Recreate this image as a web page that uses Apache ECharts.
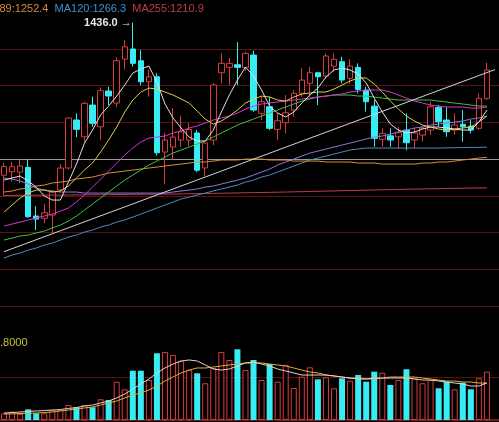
<!DOCTYPE html>
<html>
<head>
<meta charset="utf-8">
<script src="https://cdn.jsdelivr.net/npm/echarts@6/dist/echarts.min.js"></script>
<style>
  html, body { margin: 0; padding: 0; background: #000; }
  #kline { width: 499px; height: 422px; }
</style>
</head>
<body>
<div id="kline"></div>
<script>
// daily bars (price units)
var opens = [1228, 1232.9, 1232.4, 1238.8, 1172.5, 1169.4, 1173.9, 1208, 1237.9, 1303.3,
  1280.5, 1323.7, 1294.1, 1342.8, 1326.4, 1386.3, 1400, 1384, 1355.4, 1362.2,
  1259.7, 1266.5, 1276, 1276, 1285.6, 1238, 1276, 1367.7, 1375, 1378.6,
  1375, 1391.8, 1312.4, 1321.4, 1290.6, 1299.6, 1316.9, 1339.6, 1353.2, 1367.7,
  1363.2, 1376.8, 1382.7, 1360, 1375, 1344, 1322.2, 1277, 1281.7, 1280.5,
  1289.6, 1276, 1282.8, 1289.6, 1320.6, 1303.3, 1289.6, 1297.4, 1295, 1292,
  1332.8]
var closes = [1240, 1239.7, 1240.6, 1171.6, 1168.4, 1177, 1205.6, 1237.9, 1306, 1290.6,
  1326, 1298.8, 1343.2, 1336, 1384, 1403, 1380.5, 1355.4, 1362.2, 1258.7,
  1276, 1280, 1287.3, 1290.4, 1235, 1272, 1351, 1380.5, 1380.5, 1375,
  1394, 1316.9, 1328.2, 1292, 1302.3, 1313.2, 1339.6, 1357.7, 1367.7, 1362.2,
  1390.5, 1386, 1357.7, 1376.8, 1345, 1328.2, 1278.3, 1285.1, 1276, 1286,
  1272.4, 1285.6, 1292, 1321.4, 1301, 1287.3, 1296.5, 1294.1, 1289.6, 1332.8,
  1371.4]
var lows = [1200, 1219.3, 1217.4, 1170, 1153.4, 1163, 1149.4, 1205, 1236, 1280,
  1273.7, 1294.1, 1276, 1323.7, 1321, 1372.3, 1375.9, 1351, 1335, 1255,
  1216, 1248.8, 1266.5, 1268, 1232.4, 1227, 1269, 1353.2, 1351, 1351,
  1370, 1314.6, 1303.3, 1289.6, 1276, 1285, 1307.8, 1335, 1335, 1323.7,
  1360, 1369, 1353.2, 1353, 1339.6, 1314.6, 1266.9, 1266.9, 1266.9, 1264,
  1262, 1265, 1274, 1283, 1294, 1280.5, 1283, 1273.7, 1285.1, 1289.6,
  1330.5]
var highs = [1245, 1246.5, 1248.8, 1249.7, 1185.9, 1188.9, 1208, 1243.3, 1307, 1312.4,
  1328.2, 1335, 1347.8, 1348.6, 1389, 1412.2, 1436, 1398.6, 1371.4, 1366.9,
  1285.6, 1319.6, 1309, 1299, 1289.6, 1274.7, 1353.6, 1394, 1387.7, 1409.5,
  1396.3, 1397.6, 1335, 1335, 1312.4, 1337.2, 1344, 1373.7, 1375.9, 1367.7,
  1394, 1394, 1389.5, 1386, 1380.5, 1348.6, 1330.5, 1292, 1292, 1294,
  1312.4, 1292.4, 1295.5, 1328.2, 1323.7, 1321.4, 1312.4, 1316.9, 1303.3, 1339.6,
  1381.3]

// moving averages as drawn on the screenshot
var ma5 = [1221.5, 1224.3, 1227, 1220.2, 1212, 1199.8, 1194.3, 1194.3, 1218.8, 1243.3,
  1271.9, 1289.6, 1310.1, 1322.3, 1335.9, 1350.9, 1367.3, 1372.7, 1376.8, 1355,
  1325.1, 1306, 1292.4, 1280.1, 1274.7, 1274.7, 1289.6, 1314.2, 1337.3, 1357.7,
  1375.4, 1363.2, 1344.1, 1322.3, 1312.8, 1307.3, 1314.2, 1326.4, 1337.3, 1346.8,
  1361.8, 1371.4, 1374.1, 1371.4, 1365.9, 1353.7, 1333.2, 1314.2, 1297.8, 1289.6,
  1285.6, 1286.9, 1291, 1293.7, 1293.7, 1292.4, 1291, 1289.6, 1289.6, 1300.5,
  1316.9]
var ma10 = [1178, 1187.5, 1197, 1203.8, 1207.9, 1207.9, 1205.2, 1206.6, 1213.4, 1224.3,
  1235.2, 1244.7, 1259.7, 1276, 1293.7, 1314.2, 1330.5, 1341.4, 1346.8, 1345.5,
  1341.4, 1337.3, 1331.9, 1326.4, 1315.5, 1304.6, 1297.8, 1301.9, 1308.7, 1316.9,
  1326.4, 1331.9, 1335.9, 1334.6, 1330.5, 1329.1, 1334.6, 1338.7, 1340, 1341.4,
  1341.4, 1345.5, 1350.9, 1356.4, 1360.5, 1360.5, 1352.3, 1341.4, 1329.1, 1318.2,
  1308.7, 1301.9, 1296.4, 1293.7, 1291, 1289.6, 1291, 1292.4, 1293.7, 1300.5,
  1308.7]
var ma20 = [1158.9, 1161.6, 1164.3, 1167.1, 1169.8, 1172.5, 1175.2, 1179.3, 1183.4, 1191.6,
  1201.1, 1212, 1222.9, 1233.8, 1244.7, 1255.6, 1265.1, 1273.3, 1278.7, 1280.1,
  1281.5, 1285.6, 1288.3, 1292.4, 1295.1, 1299.2, 1303.3, 1306, 1308.7, 1312.8,
  1318.2, 1322.3, 1325.1, 1326.4, 1327.8, 1329.1, 1330.5, 1331.9, 1333.2, 1334.6,
  1335.9, 1337.3, 1338.7, 1341.4, 1342.8, 1344.1, 1344.1, 1344.1, 1341.4, 1337.3,
  1333.2, 1329.1, 1326.4, 1323.7, 1322.3, 1321, 1321, 1321, 1319.6, 1319.6,
  1321]
var ma30 = [1139.8, 1142.5, 1145.3, 1146.6, 1149.4, 1152.1, 1156.2, 1160.2, 1165.7, 1172.5,
  1180.7, 1188.9, 1197, 1205.2, 1213.4, 1221.5, 1228.3, 1235.2, 1242, 1247.4,
  1252.9, 1258.3, 1262.4, 1266.5, 1270.6, 1274.7, 1280.1, 1285.6, 1291, 1296.4,
  1300.5, 1304.6, 1308.7, 1312.8, 1316.9, 1321, 1325.1, 1329.1, 1331.9, 1334.6,
  1335.9, 1337.3, 1337.3, 1337.3, 1335.9, 1335.9, 1334.6, 1333.2, 1331.9, 1330.5,
  1330.5, 1330.5, 1330.5, 1330.5, 1329.1, 1327.8, 1326.4, 1325.1, 1323.7, 1322.3,
  1322.3]
var ma60 = [1224.3, 1222.9, 1220.2, 1216.1, 1210.6, 1207.9, 1206.6, 1205.2, 1205.2, 1205.2,
  1203.8, 1203.8, 1203.8, 1203.8, 1203.8, 1203.8, 1203.8, 1203.8, 1203.8, 1203.8,
  1203.8, 1205.2, 1206.6, 1207.9, 1209.3, 1212, 1213.4, 1216.1, 1218.8, 1221.5,
  1224.3, 1228.3, 1232.4, 1236.5, 1242, 1246.1, 1250.1, 1254.2, 1258.3, 1261,
  1263.8, 1266.5, 1269.2, 1271.9, 1274.7, 1277.4, 1280.1, 1281.5, 1284.2, 1286.9,
  1289.6, 1292.4, 1293.7, 1296.4, 1297.8, 1299.2, 1300.5, 1301.9, 1304.6, 1306,
  1308.7]
var ma89 = [1205.2, 1206.6, 1209.3, 1210.6, 1213.4, 1214.7, 1217.5, 1218.8, 1220.2, 1222.9,
  1224.3, 1225.6, 1228.3, 1231.1, 1232.4, 1233.8, 1235.2, 1236.5, 1237.9, 1239.2,
  1240.6, 1242, 1243.3, 1244.7, 1246.1, 1246.1, 1247.4, 1248.8, 1248.8, 1248.8,
  1250.1, 1250.1, 1250.1, 1248.8, 1248.8, 1248.8, 1247.4, 1247.4, 1247.4, 1247.4,
  1246.1, 1246.1, 1246.1, 1246.1, 1244.7, 1244.7, 1244.7, 1243.3, 1243.3, 1243.3,
  1243.3, 1243.3, 1244.7, 1244.7, 1246.1, 1246.1, 1247.4, 1248.8, 1250.1, 1251.5,
  1252.4]
var ma120 = [1115.3, 1119.4, 1122.1, 1126.2, 1128.9, 1133, 1135.7, 1139.8, 1143.9, 1146.6,
  1150.7, 1153.4, 1157.5, 1160.2, 1164.3, 1167.1, 1171.1, 1175.2, 1179.3, 1183.4,
  1187.5, 1191.6, 1195.7, 1198.4, 1201.1, 1203.8, 1206.6, 1209.3, 1212, 1214.7,
  1218.8, 1221.5, 1225.6, 1228.3, 1232.4, 1236.5, 1240.6, 1244.7, 1248.8, 1251.5,
  1254.2, 1257, 1259.7, 1262.4, 1263.8, 1265.1, 1265.1, 1265.1, 1265.1, 1265.1,
  1265.1, 1265.1, 1265.1, 1265.1, 1265.1, 1265.4, 1265.6, 1265.8, 1266, 1266.1,
  1266.3]
var ma255 = [1200.5, 1200.6, 1200.7, 1200.8, 1200.9, 1201, 1201, 1201.1, 1201.2, 1201.3,
  1201.4, 1201.5, 1201.6, 1201.7, 1201.8, 1201.9, 1202, 1202.1, 1202.2, 1202.3,
  1202.4, 1202.5, 1202.6, 1202.8, 1203, 1203.2, 1203.4, 1203.6, 1203.8, 1204,
  1204.2, 1204.4, 1204.6, 1204.8, 1205, 1205.2, 1205.5, 1205.7, 1206, 1206.2,
  1206.5, 1206.7, 1207, 1207.2, 1207.5, 1207.7, 1208, 1208.2, 1208.5, 1208.7,
  1209, 1209.2, 1209.4, 1209.6, 1209.8, 1210, 1210.2, 1210.4, 1210.6, 1210.8,
  1210.9]
// hand drawn trend line: [bar index, price] at each end
var trendFrom = [0, 1124]
var trendTo = [61, 1372]
var peakIndex = 16
var peakPrice = 1436.0

// volume pane (relative units)
var volumes = [7.8, 9.7, 7, 12.4, 7.8, 7.8, 11.6, 11.6, 17.4, 14.8,
  17.4, 14.8, 24.1, 23.3, 44.5, 35.7, 57.3, 57.3, 46.5, 77.6,
  79.1, 75.6, 69, 58.1, 54.3, 42.7, 60.5, 79.1, 69.8, 82.2,
  58.1, 69.8, 46.5, 65.1, 44.5, 64, 37.2, 50.3, 61.3, 47.3,
  49.7, 36.9, 48.5, 45.7, 52.3, 44.5, 56.2, 55, 40.7, 46.5,
  59, 48.5, 42.7, 46.5, 36.9, 44.5, 35.7, 43.4, 35.7, 48.5,
  56.2]
var volMa5 = [8.1, 8.7, 9.3, 9.9, 10.5, 11, 11.6, 12.2, 13.4, 14.5,
  16.3, 17.4, 19.8, 22.1, 25.6, 30.2, 36, 41.9, 47.7, 54.7,
  60.5, 65.1, 68.6, 69.8, 68.6, 64, 59.3, 58.1, 59.3, 62.8,
  66.3, 67.4, 65.1, 62.8, 59.3, 57, 54.7, 52.3, 52.3, 52.3,
  52.3, 51.2, 50, 48.8, 47.7, 47.7, 48.8, 48.8, 48.8, 48.8,
  48.8, 47.7, 46.5, 46.5, 45.3, 44.2, 43, 41.9, 39.5, 39.5,
  43]
var volMa10 = [7, 7, 7.6, 7.6, 8.1, 8.7, 9.3, 10.5, 11.6, 12.8,
  14, 15.1, 17.4, 19.8, 22.1, 25.6, 29.1, 31.4, 34.9, 39.5,
  45.3, 50, 54.7, 58.1, 60.5, 60.5, 61.6, 62.8, 64, 65.1,
  66.3, 66.3, 66.3, 65.1, 64, 62.8, 60.5, 58.1, 55.8, 54.7,
  52.3, 51.2, 50, 48.8, 48.8, 47.7, 47.7, 48.8, 50, 50,
  50, 50, 48.8, 47.7, 46.5, 45.3, 45.3, 44.2, 44.2, 43,
  43]

// one spare slot on the right, like the terminal leaves
var categories = []
for (var i = 0; i < opens.length + 1; i++) {
  categories.push('D' + (i + 1))
}

var upColor = '#d83c3c'
var downColor = '#38ecf4'
var gridRed = '#5a1212'

var candles = opens.map(function(o, i) {
  return [o, closes[i], lows[i], highs[i]]
})
var volumeBars = volumes.map(function(v, i) {
  var up = closes[i] >= opens[i]
  return {
    value: v,
    itemStyle: up
      ? { color: '#000', borderColor: upColor, borderWidth: 1 }
      : { color: downColor, borderColor: downColor, borderWidth: 0 }
  }
})

function maLine(name, data, color, xi) {
  return {
    name: name,
    type: 'line',
    xAxisIndex: xi || 0,
    yAxisIndex: xi || 0,
    data: data,
    showSymbol: false,
    silent: true,
    lineStyle: { color: color, width: 1 },
    z: 3
  }
}

var chart = echarts.init(document.getElementById('kline'))
var option = {
  backgroundColor: '#000',
  animation: false,
  textStyle: { fontFamily: 'Liberation Sans, Arial, sans-serif' },
  title: {
    left: -17,
    top: 3,
    padding: 0,
    text: '{a|MA89:1252.4}  {b|MA120:1266.3}  {c|MA255:1210.9}',
    textStyle: {
      fontSize: 11,
      fontWeight: 'normal',
      rich: {
        a: { color: '#d98a3a', fontSize: 11 },
        b: { color: '#3a92d4', fontSize: 11 },
        c: { color: '#c43a4a', fontSize: 11 }
      }
    }
  },
  graphic: [{
    type: 'text',
    left: 0,
    top: 337,
    style: { text: '.8000', fill: '#c8c034', font: '11px Liberation Sans, Arial, sans-serif' }
  }],
  grid: [
    { left: -1.5, right: 0, top: 12.3, bottom: 79.3 },
    { left: -1.5, right: 0, top: 334, bottom: 2 }
  ],
  xAxis: [
    {
      type: 'category', gridIndex: 0, data: categories,
      axisLine: { show: false }, axisTick: { show: false }, axisLabel: { show: false },
      splitLine: { show: false }
    },
    {
      type: 'category', gridIndex: 1, data: categories, position: 'top',
      axisLine: { show: true, lineStyle: { color: '#741818', width: 2 } },
      axisTick: { show: false }, axisLabel: { show: false }, splitLine: { show: false }
    }
  ],
  yAxis: [
    {
      type: 'value', gridIndex: 0, min: 1000, max: 1450, interval: 50,
      axisLine: { show: false }, axisTick: { show: false }, axisLabel: { show: false },
      splitLine: {
        show: true,
        lineStyle: {
          width: 1,
          // 1000 .. 1450, the 1250 line is the grey one
          color: ['transparent', gridRed, gridRed, gridRed, gridRed, '#9a9a9a', gridRed, gridRed, gridRed, 'transparent']
        }
      }
    },
    {
      type: 'value', gridIndex: 1, min: 0, max: 100, interval: 50,
      axisLine: { show: false }, axisTick: { show: false }, axisLabel: { show: false },
      splitLine: { show: true, lineStyle: { width: 1, color: ['transparent', gridRed, 'transparent'] } }
    }
  ],
  series: [
    {
      name: 'K',
      type: 'candlestick',
      data: candles,
      barWidth: 6,
      silent: true,
      itemStyle: {
        color: '#000',
        color0: downColor,
        borderColor: upColor,
        borderColor0: downColor,
        borderWidth: 1
      },
      markPoint: {
        symbol: 'circle',
        symbolSize: 0,
        label: {
          show: true,
          position: 'left',
          distance: 1,
          formatter: '1436.0 →',
          color: '#e6e6e6',
          fontWeight: 'bold',
          fontSize: 11
        },
        data: [{ coord: [peakIndex, peakPrice] }]
      },
      markLine: {
        silent: true,
        symbol: ['none', 'none'],
        label: { show: false },
        lineStyle: { color: '#d6d6d6', width: 1, type: 'solid' },
        data: [[{ coord: trendFrom }, { coord: trendTo }]]
      },
      z: 2
    },
    maLine('MA255', ma255, '#c43a4a'),
    maLine('MA120', ma120, '#4a8cc4'),
    maLine('MA89', ma89, '#dc8a34'),
    maLine('MA60', ma60, '#8a78e0'),
    maLine('MA30', ma30, '#3cc43c'),
    maLine('MA20', ma20, '#d834d8'),
    maLine('MA10', ma10, '#e0cc48'),
    maLine('MA5', ma5, '#e6dede'),
    {
      name: 'VOL',
      type: 'bar',
      xAxisIndex: 1,
      yAxisIndex: 1,
      data: volumeBars,
      barWidth: 6,
      silent: true
    },
    maLine('VMA10', volMa10, '#e0b030', 1),
    maLine('VMA5', volMa5, '#e6d0d0', 1)
  ]
}
chart.setOption(option)
</script>
</body>
</html>
